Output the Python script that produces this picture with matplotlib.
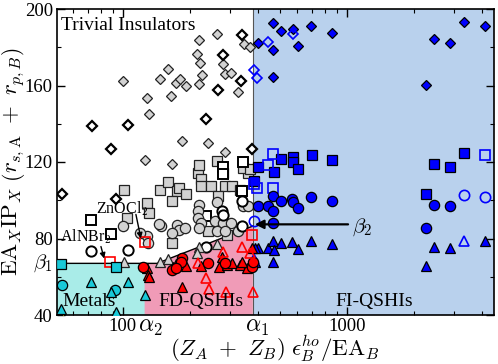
import matplotlib
matplotlib.use("Agg")
import matplotlib.pyplot as plt
import matplotlib.ticker as mticker
import matplotlib.transforms as mtransforms

plt.rcParams.update({
    "font.family": "serif",
    "font.serif": ["Liberation Serif", "DejaVu Serif"],
    "mathtext.fontset": "cm",
    "xtick.direction": "in",
    "ytick.direction": "in",
    "xtick.top": True,
    "ytick.right": True,
    "font.size": 13,
})

# axis ranges and region borders
XMIN, XMAX = 50.8, 4530
YMIN, YMAX = 40, 200
ALPHA2, ALPHA1 = 125, 380
BETA1, BETA2 = 67, 86.5
X_KINK = 142

# trivial insulators (gray = filled, open = white)
gray_diamond_x = [100, 128, 131, 125, 146, 159, 164, 172, 180, 192, 165, 183, 219, 215, 221, 226,
                  219, 240, 264, 279, 285, 303, 286, 348, 369, 325]
gray_diamond_y = [162.3, 153.3, 145.1, 120.9, 163.5, 168.4, 154.7, 161.4, 163.3, 160.0, 119.1, 131.1,
                  183.7, 176.7, 171.7, 165.3, 160.9, 129.8, 186.7, 171.4, 165.8, 166.5, 125.4, 181.6,
                  180.2, 156.5]
open_diamond_x = [72.5, 88.4, 105.6, 236, 279, 265, 341, 335, 378, 53.3, 93.1]
open_diamond_y = [138.9, 127.0, 139.5, 142.5, 175.8, 157.9, 186.3, 162.1, 126.7, 103.3, 100.4]

gray_square_x = [147, 159, 174, 178, 192, 165, 217, 222, 224, 246, 279, 285, 306, 333, 362, 265,
                 240, 165, 128, 131, 290, 101, 104, 219, 262, 344, 369]
gray_square_y = [105.3, 109.4, 104.7, 106.5, 103.3, 99.8, 114.4, 110.9, 107.4, 107.4, 114.4, 107.4,
                 107.4, 105.6, 114.4, 102.1, 83.7, 77.5, 98.6, 93.3, 81.9, 105.3, 90.7, 118.4,
                 120.5, 117.0, 116.2]
open_square_x = [72, 88.4, 236, 339, 280, 280, 342]
open_square_y = [89.8, 82.5, 91.6, 104.7, 117.5, 113.5, 120.2]

gray_circle_x = [219, 217, 217, 224, 262, 257, 280, 303, 327, 344, 362, 148, 175, 178, 189, 165,
                 219, 264, 285, 128, 130, 119, 99.7, 145]
gray_circle_y = [97.7, 94.2, 90.7, 88.1, 99.1, 88.9, 88.1, 88.1, 84.1, 96.8, 96.8, 86.3, 87.2, 84.6,
                 85.4, 82.8, 85.4, 84.1, 83.7, 81.4, 77.5, 82.8, 86.7, 87.7]
open_circle_x = [277, 280, 339, 339, 72, 105, 236]
open_circle_y = [94.2, 92.5, 86.3, 99.5, 73.7, 74.1, 75.3]

gray_triangle_x = [147, 159, 219, 264, 215, 101]
gray_triangle_y = [67.9, 69.3, 75.8, 77.1, 72.3, 67.5]

# FI-QSHIs (blue)
blue_diamond_x = [402, 466, 508, 572, 469, 603, 691, 860, 466, 2253, 2446, 2883, 3339, 4131]
blue_diamond_y = [182.3, 192.5, 188.4, 189.8, 178.4, 180.5, 191.2, 187.7, 164.7, 160.4, 184.2,
                  182.3, 193.3, 191.2]
blue_open_diamond_x = [445, 576, 386, 395]
blue_open_diamond_y = [182.8, 186.7, 168.3, 163.8]

blue_square_x = [402, 508, 572, 576, 471, 603, 696, 860, 2446, 2883, 3339, 2245, 385]
blue_square_y = [117.5, 121.4, 122.6, 120.2, 114.9, 116.5, 123.5, 121.1, 118.8, 117.5, 124.6,
                 103.3, 110.0]
blue_open_square_x = [466, 445, 4131, 385, 395, 466]
blue_open_square_y = [124.1, 118.3, 123.5, 108.6, 106.5, 106.5]

blue_circle_x = [402, 443, 466, 469, 508, 566, 576, 603, 691, 860, 466, 2446, 2883, 2245]
blue_circle_y = [96.8, 97.2, 102.1, 94.6, 99.8, 100.7, 98.9, 95.9, 101.6, 99.8, 88.1, 97.7, 96.8, 85.4]
blue_open_circle_x = [385, 3339, 4131]
blue_open_circle_y = [89.3, 102.6, 101.6]

blue_triangle_x = [402, 443, 466, 474, 508, 570, 603, 691, 860, 466, 389, 2245, 2446, 2883, 4131, 389]
blue_triangle_y = [74.9, 74.9, 78.9, 74.1, 77.5, 78.1, 74.4, 78.9, 77.2, 67.9, 67.9, 65.8, 75.8,
                   74.9, 78.9, 74.9]
blue_open_triangle_x = [385, 3339]
blue_open_triangle_y = [69.3, 78.9]

# FD-QSHIs (red)
red_triangle_x = [167, 172, 192, 224, 184, 268, 276, 292, 306, 333, 357, 375, 339, 128, 130, 131]
red_triangle_y = [65.3, 66.5, 65.8, 65.8, 54.4, 65.3, 70.5, 66.2, 67.0, 66.2, 64.4, 74.9, 67.9,
                  64.4, 60.9, 60.0]
red_circle_x = [123, 165, 183, 181, 240, 285, 375, 379, 172]
red_circle_y = [65.3, 63.5, 69.6, 67.9, 67.0, 67.0, 65.3, 67.9, 64.4]
red_open_triangle_x = [217, 236, 242, 279, 339, 369, 288, 379]
red_open_triangle_y = [67.0, 59.1, 53.8, 73.2, 75.8, 72.3, 52.1, 52.1]
red_open_square_x = [125, 87.8, 375]
red_open_square_y = [78.1, 67.9, 81.9]

# metals (cyan)
cyan_square_x = [52.9, 93.1]
cyan_square_y = [66.5, 64.9]
cyan_circle_x = [53.4, 92.5]
cyan_circle_y = [55.6, 53.3]
cyan_triangle_x = [72, 105, 88.4, 126, 52.9, 93.1]
cyan_triangle_y = [57.4, 57.4, 52.1, 50.4, 43.3, 41.6]
yellow_x = [53.8]
yellow_y = [38.6]

CYAN_BG = "#a9ece8"
PINK_BG = "#f09bb7"
BLUE_BG = "#b9d1ed"
GRAY = "#d2d2d2"
BLUE = "#0000ff"
RED = "#ff0000"
CYAN = "#19c9d8"

fig = plt.figure(figsize=(4.98, 3.64), dpi=100)
ax = fig.add_axes([57 / 498, 1 - 315 / 364, 437 / 498, 306 / 364])
ax.set_xscale("log")
ax.set_xlim(XMIN, XMAX)
ax.set_ylim(YMIN, YMAX)

# regions
ax.fill_between([XMIN, ALPHA2], YMIN, BETA1, color=CYAN_BG, lw=0, zorder=0)
ax.fill([ALPHA2, ALPHA2, X_KINK, ALPHA1, ALPHA1], [YMIN, BETA1, BETA1, BETA2, YMIN],
        color=PINK_BG, lw=0, zorder=0)
ax.axvspan(ALPHA1, XMAX, color=BLUE_BG, lw=0, zorder=0)
ax.axvline(ALPHA1, color="#555555", lw=0.8, zorder=0.5)
ax.plot([XMIN, X_KINK, ALPHA1], [BETA1, BETA1, BETA2], color="k", lw=1, zorder=1)


def pts(x, y, marker, face, edge, ms, mew=0.9):
    ax.plot(x, y, linestyle="none", marker=marker, ms=ms, mfc=face, mec=edge, mew=mew, zorder=3)


MS = {"D": 5.6, "s": 7.0, "o": 7.4, "^": 7.4}

pts(gray_diamond_x, gray_diamond_y, "D", GRAY, "#222222", MS["D"])
pts(open_diamond_x, open_diamond_y, "D", "white", "black", MS["D"], 1.6)
pts(gray_square_x, gray_square_y, "s", GRAY, "#222222", MS["s"])
pts(open_square_x, open_square_y, "s", "white", "black", MS["s"], 1.4)
pts(gray_circle_x, gray_circle_y, "o", GRAY, "#222222", MS["o"])
pts(open_circle_x, open_circle_y, "o", "white", "black", MS["o"], 1.4)
pts(gray_triangle_x, gray_triangle_y, "^", GRAY, "#222222", MS["^"])

pts(blue_diamond_x, blue_diamond_y, "D", BLUE, "black", MS["D"])
pts(blue_open_diamond_x, blue_open_diamond_y, "D", "none", BLUE, MS["D"], 1.2)
pts(blue_square_x, blue_square_y, "s", BLUE, "black", MS["s"])
pts(blue_open_square_x, blue_open_square_y, "s", "none", BLUE, MS["s"], 1.2)
pts(blue_circle_x, blue_circle_y, "o", BLUE, "black", MS["o"])
pts(blue_open_circle_x, blue_open_circle_y, "o", "none", BLUE, MS["o"], 1.2)
pts(blue_triangle_x, blue_triangle_y, "^", BLUE, "black", MS["^"])
pts(blue_open_triangle_x, blue_open_triangle_y, "^", "none", BLUE, MS["^"], 1.2)

pts(red_triangle_x, red_triangle_y, "^", RED, "black", MS["^"])
pts(red_circle_x, red_circle_y, "o", RED, "black", MS["o"])
pts(red_open_triangle_x, red_open_triangle_y, "^", "none", RED, MS["^"], 1.2)
pts(red_open_square_x, red_open_square_y, "s", "none", RED, MS["s"], 1.2)

pts(yellow_x, yellow_y, "^", "#f0e000", "black", MS["^"])
pts(cyan_square_x, cyan_square_y, "s", CYAN, "black", MS["s"])
pts(cyan_circle_x, cyan_circle_y, "o", CYAN, "black", MS["o"])
pts(cyan_triangle_x, cyan_triangle_y, "^", CYAN, "black", MS["^"])

# ticks
ax.xaxis.set_major_locator(mticker.FixedLocator([100, 1000]))
ax.xaxis.set_major_formatter(mticker.FixedFormatter(["100", "1000"]))
ax.xaxis.set_minor_locator(mticker.LogLocator(subs=range(2, 10)))
ax.xaxis.set_minor_formatter(mticker.NullFormatter())
ax.set_yticks([40, 80, 120, 160, 200])
ax.yaxis.set_minor_locator(mticker.AutoMinorLocator(2))
ax.tick_params(which="major", length=6, width=1, labelsize=13.5, pad=3)
ax.tick_params(axis="x", which="major", pad=2)
ax.tick_params(which="minor", length=3, width=0.8)
for s in ax.spines.values():
    s.set_linewidth(1.2)

bx = mtransforms.blended_transform_factory(ax.transData, ax.transAxes)
by = mtransforms.blended_transform_factory(ax.transAxes, ax.transData)
ax.text(133, -0.005, r"$\alpha_2$", transform=bx, ha="center", va="top", fontsize=17)
ax.text(398, -0.005, r"$\alpha_1$", transform=bx, ha="center", va="top", fontsize=17)
ax.text(-0.01, BETA1, r"$\beta_1$", transform=by, ha="right", va="center", fontsize=15)

# region labels
ax.text(0.01, 0.975, "Trivial Insulators", transform=ax.transAxes, ha="left", va="top", fontsize=14)
ax.text(0.073, 0.045, "Metals", transform=ax.transAxes, ha="center", va="center", fontsize=14)
ax.text(0.33, 0.045, "FD-QSHIs", transform=ax.transAxes, ha="center", va="center", fontsize=14)
ax.text(0.725, 0.045, "FI-QSHIs", transform=ax.transAxes, ha="center", va="center", fontsize=14)

# annotations
arrow = dict(arrowstyle="-|>", color="black", lw=1.0, mutation_scale=8, shrinkA=0, shrinkB=0)
ax.annotate("", xy=(388, 87.4), xytext=(1011, 87.4),
            arrowprops=dict(arrowstyle="-|>", color="black", lw=1.6, mutation_scale=13,
                            shrinkA=0, shrinkB=0), zorder=4)
ax.text(1055, 85.8, r"$\beta_2$", ha="left", va="center", fontsize=15)

ax.text(99, 95.8, r"ZnOCl$_2$", ha="center", va="center", fontsize=11.5, zorder=5)
ax.annotate("", xy=(120.3, 80), xytext=(114.3, 92.6), arrowprops=arrow, zorder=4)
ax.text(68.4, 81, r"AlNBr$_2$", ha="center", va="center", fontsize=11.5, zorder=5)
ax.annotate("", xy=(82.5, 69.5), xytext=(79.8, 75.8), arrowprops=arrow, zorder=4)

fig.text(275 / 498, 1 - 349 / 364, r"$(Z_A\ +\ Z_B)\;\epsilon_B^{ho}/\mathrm{EA}_B$",
         ha="center", va="center", fontsize=16.5)
fig.text(14 / 498, 1 - 162 / 364,
         r"$\mathrm{EA}_X\mathrm{IP}_X\ \left(r_{s,\mathrm{A}}\ +\ r_{p,B}\right)$",
         ha="center", va="center", rotation=90, fontsize=16.5)

fig.savefig("out.png", dpi=100)
